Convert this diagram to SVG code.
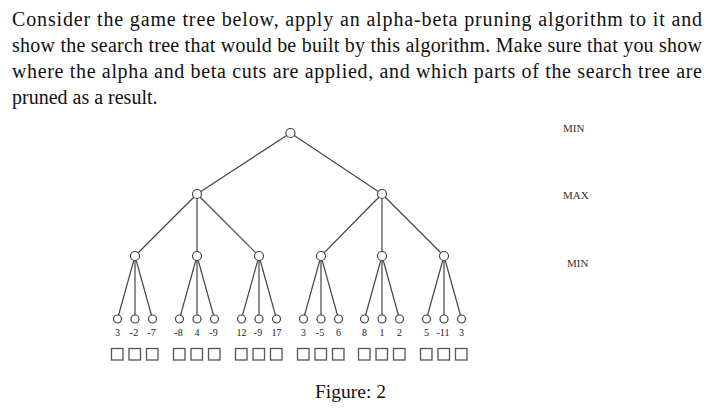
<svg xmlns="http://www.w3.org/2000/svg" width="724" height="415" viewBox="0 0 724 415">
<style>
.t{font-family:"Liberation Serif","Times New Roman",serif;fill:#111}
.p{font-size:20px}
.lv{font-size:11px;fill:#333}
.lf{font-size:10px;fill:#222;text-anchor:middle}
.e{stroke:#444;stroke-width:1.2;fill:none}
.n{fill:#fff;stroke:#444;stroke-width:1.2}
.b{fill:#fff;stroke:#555;stroke-width:1.3}
</style>
<rect width="724" height="415" fill="#fff"/>
<g id="question">
<text class="t p" x="12" y="25.5" textLength="690" lengthAdjust="spacing">Consider the game tree below, apply an alpha-beta pruning algorithm to it and</text>
<text class="t p" x="12" y="51.5" textLength="690" lengthAdjust="spacing">show the search tree that would be built by this algorithm. Make sure that you show</text>
<text class="t p" x="12" y="77.5" textLength="690" lengthAdjust="spacing">where the alpha and beta cuts are applied, and which parts of the search tree are</text>
<text class="t p" x="12" y="103.5">pruned as a result.</text>
</g>
<g id="levels">
<text class="t lv" x="563" y="131.5">MIN</text>
<text class="t lv" x="563" y="199">MAX</text>
<text class="t lv" x="567" y="266.5">MIN</text>
</g>
<g id="connectors">
<line class="e" x1="290.5" y1="133" x2="197" y2="194"/>
<line class="e" x1="290.5" y1="133" x2="382" y2="194"/>
<line class="e" x1="197" y1="194" x2="135" y2="256"/>
<line class="e" x1="197" y1="194" x2="197" y2="256"/>
<line class="e" x1="197" y1="194" x2="259" y2="256"/>
<line class="e" x1="382" y1="194" x2="321" y2="256"/>
<line class="e" x1="382" y1="194" x2="382" y2="256"/>
<line class="e" x1="382" y1="194" x2="444" y2="256"/>
<line class="e" x1="135" y1="256" x2="117.5" y2="319"/><line class="e" x1="135" y1="256" x2="135" y2="319"/><line class="e" x1="135" y1="256" x2="152.5" y2="319"/>
<line class="e" x1="197" y1="256" x2="179.5" y2="319"/><line class="e" x1="197" y1="256" x2="197" y2="319"/><line class="e" x1="197" y1="256" x2="214.5" y2="319"/>
<line class="e" x1="259" y1="256" x2="241.5" y2="319"/><line class="e" x1="259" y1="256" x2="259" y2="319"/><line class="e" x1="259" y1="256" x2="276.5" y2="319"/>
<line class="e" x1="321" y1="256" x2="303.5" y2="319"/><line class="e" x1="321" y1="256" x2="321" y2="319"/><line class="e" x1="321" y1="256" x2="338.5" y2="319"/>
<line class="e" x1="382" y1="256" x2="364.5" y2="319"/><line class="e" x1="382" y1="256" x2="382" y2="319"/><line class="e" x1="382" y1="256" x2="399.5" y2="319"/>
<line class="e" x1="444" y1="256" x2="426.5" y2="319"/><line class="e" x1="444" y1="256" x2="444" y2="319"/><line class="e" x1="444" y1="256" x2="461.5" y2="319"/>
</g>
<g id="root"><circle class="n" cx="290.5" cy="133" r="4.5"/></g>
<g id="max1"><circle class="n" cx="197" cy="194" r="4.5"/></g>
<g id="max2"><circle class="n" cx="382" cy="194" r="4.5"/></g>
<g id="min1"><circle class="n" cx="135" cy="256" r="4.5"/></g>
<g id="min2"><circle class="n" cx="197" cy="256" r="4.5"/></g>
<g id="min3"><circle class="n" cx="259" cy="256" r="4.5"/></g>
<g id="min4"><circle class="n" cx="321" cy="256" r="4.5"/></g>
<g id="min5"><circle class="n" cx="382" cy="256" r="4.5"/></g>
<g id="min6"><circle class="n" cx="444" cy="256" r="4.5"/></g>
<g id="leaf1"><circle class="n" cx="117.5" cy="319" r="4"/><text class="t lf" x="117.5" y="336">3</text><rect class="b" x="111.5" y="348.5" width="11.5" height="11.5"/></g>
<g id="leaf2"><circle class="n" cx="135" cy="319" r="4"/><text class="t lf" x="134" y="336">-2</text><rect class="b" x="129" y="348.5" width="11.5" height="11.5"/></g>
<g id="leaf3"><circle class="n" cx="152.5" cy="319" r="4"/><text class="t lf" x="151.5" y="336">-7</text><rect class="b" x="146.5" y="348.5" width="11.5" height="11.5"/></g>
<g id="leaf4"><circle class="n" cx="179.5" cy="319" r="4"/><text class="t lf" x="178.5" y="336">-8</text><rect class="b" x="173.5" y="348.5" width="11.5" height="11.5"/></g>
<g id="leaf5"><circle class="n" cx="197" cy="319" r="4"/><text class="t lf" x="197" y="336">4</text><rect class="b" x="191" y="348.5" width="11.5" height="11.5"/></g>
<g id="leaf6"><circle class="n" cx="214.5" cy="319" r="4"/><text class="t lf" x="213.5" y="336">-9</text><rect class="b" x="208.5" y="348.5" width="11.5" height="11.5"/></g>
<g id="leaf7"><circle class="n" cx="241.5" cy="319" r="4"/><text class="t lf" x="241.5" y="336">12</text><rect class="b" x="235.5" y="348.5" width="11.5" height="11.5"/></g>
<g id="leaf8"><circle class="n" cx="259" cy="319" r="4"/><text class="t lf" x="258" y="336">-9</text><rect class="b" x="253" y="348.5" width="11.5" height="11.5"/></g>
<g id="leaf9"><circle class="n" cx="276.5" cy="319" r="4"/><text class="t lf" x="276.5" y="336">17</text><rect class="b" x="270.5" y="348.5" width="11.5" height="11.5"/></g>
<g id="leaf10"><circle class="n" cx="303.5" cy="319" r="4"/><text class="t lf" x="303.5" y="336">3</text><rect class="b" x="297.5" y="348.5" width="11.5" height="11.5"/></g>
<g id="leaf11"><circle class="n" cx="321" cy="319" r="4"/><text class="t lf" x="320" y="336">-5</text><rect class="b" x="315" y="348.5" width="11.5" height="11.5"/></g>
<g id="leaf12"><circle class="n" cx="338.5" cy="319" r="4"/><text class="t lf" x="338.5" y="336">6</text><rect class="b" x="332.5" y="348.5" width="11.5" height="11.5"/></g>
<g id="leaf13"><circle class="n" cx="364.5" cy="319" r="4"/><text class="t lf" x="364.5" y="336">8</text><rect class="b" x="358.5" y="348.5" width="11.5" height="11.5"/></g>
<g id="leaf14"><circle class="n" cx="382" cy="319" r="4"/><text class="t lf" x="382" y="336">1</text><rect class="b" x="376" y="348.5" width="11.5" height="11.5"/></g>
<g id="leaf15"><circle class="n" cx="399.5" cy="319" r="4"/><text class="t lf" x="399.5" y="336">2</text><rect class="b" x="393.5" y="348.5" width="11.5" height="11.5"/></g>
<g id="leaf16"><circle class="n" cx="426.5" cy="319" r="4"/><text class="t lf" x="426.5" y="336">5</text><rect class="b" x="420.5" y="348.5" width="11.5" height="11.5"/></g>
<g id="leaf17"><circle class="n" cx="444" cy="319" r="4"/><text class="t lf" x="443" y="336">-11</text><rect class="b" x="438" y="348.5" width="11.5" height="11.5"/></g>
<g id="leaf18"><circle class="n" cx="461.5" cy="319" r="4"/><text class="t lf" x="461.5" y="336">3</text><rect class="b" x="455.5" y="348.5" width="11.5" height="11.5"/></g>
<g id="caption"><text class="t" x="315" y="397.5" font-size="19.5">Figure: 2</text></g>
</svg>
